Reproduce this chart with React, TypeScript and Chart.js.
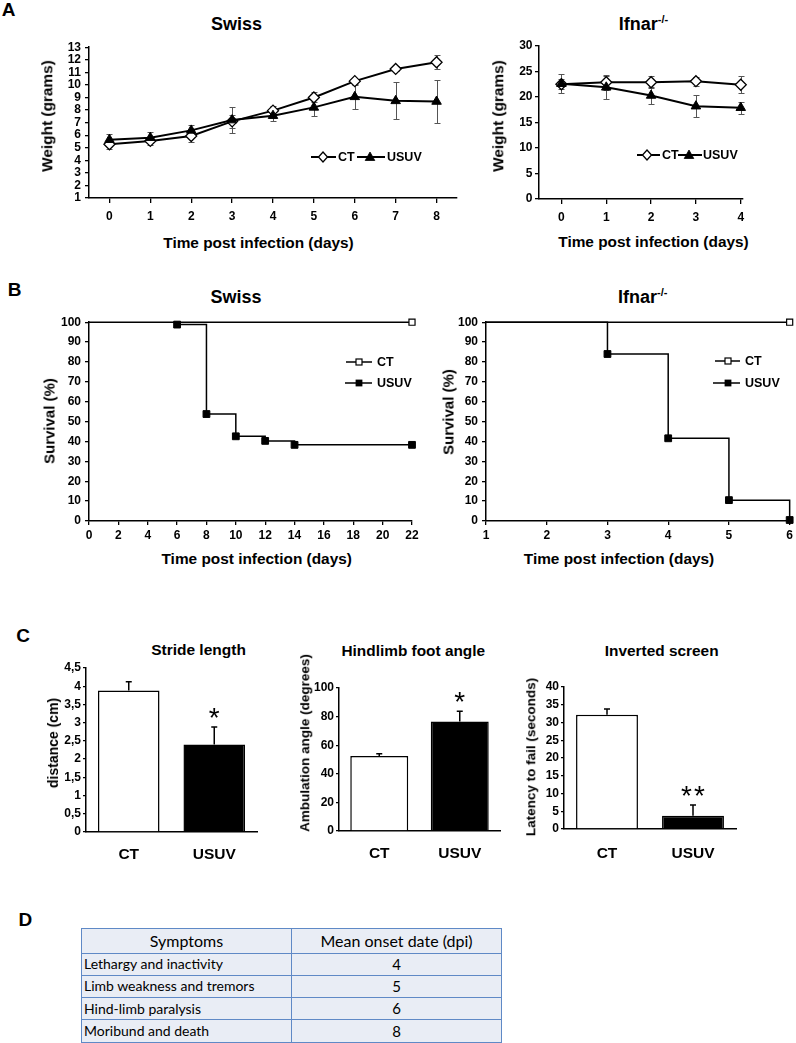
import React, { useEffect, useRef } from 'react';
import { Chart, registerables } from 'chart.js';

Chart.register(...registerables);

const FONT = 'Arial, "Liberation Sans", Helvetica, sans-serif';

// ---------- Panel A: body weight ----------
const swissWeightDays = [0, 1, 2, 3, 4, 5, 6, 7, 8];
const swissWeightCT = [5.28, 5.54, 5.93, 7.1, 7.95, 9.0, 10.3, 11.27, 11.8];
const swissWeightCTErr = [0.4, 0.3, 0.5, 0.5, 0.34, 0.4, 0.2, 0.2, 0.55];
const swissWeightUSUV = [5.64, 5.8, 6.38, 7.2, 7.55, 8.21, 9.05, 8.73, 8.68];
const swissWeightUSUVErr = [0.42, 0.45, 0.42, 1.05, 0.4, 0.7, 0.95, 1.47, 1.7];
const swissWeightYTicks = [1, 2, 3, 4, 5, 6, 7, 8, 9, 10, 11, 12, 13];

const ifnarWeightDays = [0, 1, 2, 3, 4];
const ifnarWeightCT = [22.5, 22.9, 22.9, 23.1, 22.4];
const ifnarWeightCTErr = [1.0, 1.5, 1.2, 0.9, 1.7];
const ifnarWeightUSUV = [22.6, 21.9, 20.3, 18.2, 17.9];
const ifnarWeightUSUVErr = [1.9, 2.3, 1.7, 2.2, 1.2];
const ifnarWeightYTicks = [0, 5, 10, 15, 20, 25, 30];

// ---------- Panel B: survival ----------
const swissSurvDaysCT = [0, 22];
const swissSurvCT = [100, 100];
const swissSurvDaysUSUV = [6, 8, 10, 12, 14, 22];
const swissSurvUSUV = [98.8, 53.8, 42.6, 40.3, 38.3, 38.3];
const swissSurvXTicks = [0, 2, 4, 6, 8, 10, 12, 14, 16, 18, 20, 22];

const ifnarSurvDaysCT = [1, 6];
const ifnarSurvCT = [100, 100];
const ifnarSurvDaysUSUV = [1, 3, 4, 5, 6];
const ifnarSurvUSUV = [100, 84, 41.6, 10.5, 0.5];
const ifnarSurvXTicks = [1, 2, 3, 4, 5, 6];

const survYTicks = [0, 10, 20, 30, 40, 50, 60, 70, 80, 90, 100];

// ---------- Panel C: behaviour ----------
const groups = ['CT', 'USUV'];
const strideMean = [3.88, 2.4];
const strideErr = [0.24, 0.48];
const strideSig = ['', '*'];
const strideYTicks = [0, 0.5, 1, 1.5, 2, 2.5, 3, 3.5, 4, 4.5];
const strideYLabels = ['0', '0,5', '1', '1,5', '2', '2,5', '3', '3,5', '4', '4,5'];

const footMean = [52.5, 76.5];
const footErr = [1.5, 7.3];
const footSig = ['', '*'];
const footYTicks = [0, 20, 40, 60, 80, 100];

const screenMean = [32.2, 3.75];
const screenErr = [1.6, 3.0];
const screenSig = ['', '**'];
const screenYTicks = [0, 5, 10, 15, 20, 25, 30, 35, 40];

// ---------- Panel D: table ----------
const symptoms = ['Lethargy and inactivity', 'Limb weakness and tremors', 'Hind-limb paralysis', 'Moribund and death'];
const onsetDpi = [4, 5, 6, 8];

// ---------- helpers ----------
const tickFont = { family: FONT, size: 12, weight: 'bold' as const };

function numAxis(o: any) {
  return {
    type: 'linear',
    position: o.vertical ? 'left' : 'bottom',
    min: o.min,
    max: o.max,
    afterBuildTicks: (s: any) => {
      s.ticks = o.values.map((v: number) => ({ value: v }));
    },
    afterFit: (s: any) => {
      if (o.vertical) s.width = o.size;
      else s.height = o.size;
    },
    ticks: {
      autoSkip: false,
      maxRotation: 0,
      minRotation: 0,
      padding: o.pad,
      color: '#000',
      font: tickFont,
      callback: (_v: any, i: number) => (o.labels ? o.labels[i] : String(o.values[i])),
    },
    grid: {
      display: true,
      drawOnChartArea: false,
      drawTicks: true,
      tickLength: o.tickLen,
      tickColor: '#000',
      tickWidth: 1.3,
      color: '#000',
      lineWidth: 1.3,
    },
    border: { display: true, color: '#000', width: 1.5 },
  };
}

const pts = (xs: number[], ys: number[]) => xs.map((x, i) => ({ x, y: ys[i] }));

function lineErrPlugin(sets: { xs: number[]; ys: number[]; err: number[] }[]) {
  return {
    id: 'lineErr',
    beforeDatasetsDraw(chart: any) {
      const { ctx } = chart;
      const x = chart.scales.x;
      const y = chart.scales.y;
      ctx.save();
      ctx.strokeStyle = '#555';
      ctx.lineWidth = 1;
      sets.forEach((s) => {
        s.xs.forEach((d, i) => {
          const px = Math.round(x.getPixelForValue(d)) + 0.5;
          const top = Math.round(y.getPixelForValue(s.ys[i] + s.err[i])) + 0.5;
          const bot = Math.round(y.getPixelForValue(s.ys[i] - s.err[i])) + 0.5;
          ctx.beginPath();
          ctx.moveTo(px, top);
          ctx.lineTo(px, bot);
          ctx.moveTo(px - 3, top);
          ctx.lineTo(px + 3, top);
          ctx.moveTo(px - 3, bot);
          ctx.lineTo(px + 3, bot);
          ctx.stroke();
        });
      });
      ctx.restore();
    },
  };
}

function barErrPlugin(means: number[], errs: number[], sig: string[]) {
  return {
    id: 'barErr',
    afterDatasetsDraw(chart: any) {
      const { ctx } = chart;
      const y = chart.scales.y;
      const meta = chart.getDatasetMeta(0);
      ctx.save();
      ctx.strokeStyle = '#000';
      ctx.fillStyle = '#000';
      ctx.lineWidth = 1.5;
      meta.data.forEach((bar: any, i: number) => {
        const px = bar.x;
        const base = y.getPixelForValue(means[i]);
        const top = y.getPixelForValue(means[i] + errs[i]);
        ctx.beginPath();
        ctx.moveTo(px, base);
        ctx.lineTo(px, top);
        ctx.moveTo(px - 3, top);
        ctx.lineTo(px + 3, top);
        ctx.stroke();
        const s = sig[i];
        if (s) {
          ctx.font = `normal 28px ${FONT}`;
          ctx.textAlign = 'center';
          ctx.textBaseline = 'alphabetic';
          const baseY = top;
          const n = s.length;
          for (let k = 0; k < n; k++) {
            const off = (k - (n - 1) / 2) * 13;
            ctx.fillText('*', px + off, baseY);
          }
        }
      });
      ctx.restore();
    },
  };
}

const baseOptions = (padTop: number, padRight: number) => ({
  responsive: false,
  animation: false,
  devicePixelRatio: 1,
  events: [],
  layout: { padding: { top: padTop, right: padRight, left: 0, bottom: 0 } },
  plugins: { legend: { display: false }, tooltip: { enabled: false }, title: { display: false } },
});

function weightConfig(p: any) {
  return {
    type: 'line',
    data: {
      datasets: [
        {
          label: 'CT',
          data: pts(p.days, p.ct),
          borderColor: '#000',
          borderWidth: 2,
          pointStyle: 'rectRot',
          pointRadius: 5.5,
          pointBackgroundColor: '#fff',
          pointBorderColor: '#000',
          pointBorderWidth: 1.3,
          tension: 0,
          clip: false,
          order: 1,
        },
        {
          label: 'USUV',
          data: pts(p.days, p.usuv),
          borderColor: '#000',
          borderWidth: 2,
          pointStyle: 'triangle',
          pointRadius: 5.5,
          pointBackgroundColor: '#000',
          pointBorderColor: '#000',
          pointBorderWidth: 1,
          tension: 0,
          clip: false,
          order: 0,
        },
      ],
    },
    options: {
      ...baseOptions(10, p.padRight),
      scales: {
        x: numAxis({ vertical: false, min: p.xMin, max: p.xMax, values: p.days, size: 30, tickLen: 5, pad: p.xPad }),
        y: numAxis({ vertical: true, min: p.yMin, max: p.yMax, values: p.yTicks, size: 49, tickLen: 4, pad: p.yPad }),
      },
    },
    plugins: [
      lineErrPlugin([
        { xs: p.days, ys: p.ct, err: p.ctErr },
        { xs: p.days, ys: p.usuv, err: p.usuvErr },
      ]),
    ],
  };
}

function survConfig(p: any) {
  return {
    type: 'line',
    data: {
      datasets: [
        {
          label: 'CT',
          data: pts(p.ctDays, p.ct),
          stepped: 'before',
          borderColor: '#000',
          borderWidth: 1.5,
          pointStyle: 'rect',
          pointRadius: p.ctDays.map((_: number, i: number) => (i === p.ctDays.length - 1 ? 4.3 : 0)),
          pointBackgroundColor: '#fff',
          pointBorderColor: '#000',
          pointBorderWidth: 1.2,
          clip: false,
          order: 0,
        },
        {
          label: 'USUV',
          data: pts(p.usuvDays, p.usuv),
          stepped: 'before',
          borderColor: '#000',
          borderWidth: 1.5,
          pointStyle: 'rect',
          pointRadius: p.usuv.map((v: number) => (v >= 100 ? 0 : 4.8)),
          pointBackgroundColor: '#000',
          pointBorderColor: '#000',
          pointBorderWidth: 1,
          clip: false,
          order: 1,
        },
      ],
    },
    options: {
      ...baseOptions(10, p.padRight),
      scales: {
        x: numAxis({ vertical: false, min: p.xMin, max: p.xMax, values: p.xTicks, size: 25, tickLen: 4, pad: 3 }),
        y: numAxis({ vertical: true, min: 0, max: 100, values: survYTicks, size: 49, tickLen: 4, pad: 4 }),
      },
    },
  };
}

function barConfig(p: any) {
  return {
    type: 'bar',
    data: {
      labels: groups,
      datasets: [
        {
          data: p.mean,
          backgroundColor: ['#fff', '#000'],
          borderColor: '#000',
          borderWidth: 1.5,
          barPercentage: 0.72,
          categoryPercentage: 1,
        },
      ],
    },
    options: {
      ...baseOptions(10, 10),
      scales: {
        x: {
          type: 'category',
          offset: true,
          afterFit: (s: any) => {
            s.height = 40;
          },
          grid: { display: false, drawTicks: false },
          border: { display: true, color: '#000', width: 1.5 },
          ticks: { color: '#000', padding: p.xPad, font: { family: FONT, size: 15.5, weight: 'bold' } },
        },
        y: numAxis({ vertical: true, min: p.yMin, max: p.yMax, values: p.yTicks, labels: p.yLabels, size: 49, tickLen: 3, pad: 2 }),
      },
    },
    plugins: [barErrPlugin(p.mean, p.err, p.sig)],
  };
}

function ChartBox({ left, top, width, height, build }: any) {
  const ref = useRef<HTMLCanvasElement | null>(null);
  useEffect(() => {
    if (!ref.current) return;
    const chart = new Chart(ref.current, build());
    return () => chart.destroy();
  }, []);
  return (
    <canvas
      ref={ref}
      width={width}
      height={height}
      style={{ position: 'absolute', left, top, width, height, display: 'block' }}
    />
  );
}

function Txt({ x, y, size, rot, children, weight = 'bold' }: any) {
  return (
    <div
      style={{
        position: 'absolute',
        left: x,
        top: y,
        transform: `translate(-50%, -50%)${rot ? ' rotate(-90deg)' : ''}`,
        fontFamily: FONT,
        fontSize: size,
        fontWeight: weight,
        lineHeight: 1,
        whiteSpace: 'nowrap',
        color: '#000',
      }}
    >
      {children}
    </div>
  );
}

function Ifnar({ x, y }: any) {
  return (
    <Txt x={x} y={y} size={18}>
      Ifnar
      <span style={{ fontSize: 11, position: 'relative', top: -7 }}>-/-</span>
    </Txt>
  );
}

function Marker({ kind, m }: any) {
  if (kind === 'diamond')
    return <polygon points={`${m},2 ${m + 4.5},7 ${m},12 ${m - 4.5},7`} fill="#fff" stroke="#000" strokeWidth={1.3} />;
  if (kind === 'triangle')
    return <polygon points={`${m},2 ${m + 4.8},10.5 ${m - 4.8},10.5`} fill="#000" stroke="#000" strokeWidth={0.8} />;
  if (kind === 'openSquare')
    return <rect x={m - 3} y={4} width={6} height={6} fill="#fff" stroke="#000" strokeWidth={1.2} />;
  return <rect x={m - 3.4} y={3.6} width={6.8} height={6.8} fill="#000" />;
}

function LegendEntry({ x, y, lineW, markAt, kind, label, textX, lw }: any) {
  return (
    <>
      <svg style={{ position: 'absolute', left: x, top: y - 7 }} width={lineW} height={14}>
        <line x1={0} y1={7} x2={lineW} y2={7} stroke="#000" strokeWidth={lw} />
        <Marker kind={kind} m={markAt} />
      </svg>
      <div
        style={{
          position: 'absolute',
          left: textX,
          top: y,
          transform: 'translateY(-50%)',
          fontFamily: FONT,
          fontWeight: 'bold',
          fontSize: 12.5,
          lineHeight: 1,
          whiteSpace: 'nowrap',
        }}
      >
        {label}
      </div>
    </>
  );
}

const cellBase: any = {
  border: '1.5px solid #5f89c6',
  padding: '0 2px',
  width: 205,
  lineHeight: 1,
  whiteSpace: 'nowrap',
  fontFamily: 'Lato, "Open Sans", sans-serif',
  color: '#000',
};

export default function App() {
  return (
    <div style={{ position: 'absolute', left: 0, top: 0, width: 796, height: 1043, background: '#fff', overflow: 'hidden' }}>
      {/* Panel letters */}
      <Txt x={8.5} y={8.5} size={19}>A</Txt>
      <Txt x={14.7} y={288.5} size={19}>B</Txt>
      <Txt x={23} y={634.7} size={19}>C</Txt>
      <Txt x={25.3} y={919} size={19}>D</Txt>

      {/* ---------- A: Swiss weight ---------- */}
      <Txt x={236.5} y={24.2} size={18}>Swiss</Txt>
      <ChartBox
        left={40}
        top={36}
        width={427}
        height={192}
        build={() =>
          weightConfig({
            days: swissWeightDays,
            ct: swissWeightCT,
            ctErr: swissWeightCTErr,
            usuv: swissWeightUSUV,
            usuvErr: swissWeightUSUVErr,
            xMin: -0.5,
            xMax: 8.5,
            yMin: 1,
            yMax: 13,
            yTicks: swissWeightYTicks,
            padRight: 10,
            xPad: 6,
            yPad: 4,
          })
        }
      />
      <Txt x={46.7} y={115.5} size={15.4} rot>Weight (grams)</Txt>
      <Txt x={258.5} y={243.3} size={15.4}>Time post infection (days)</Txt>
      <LegendEntry x={311} y={157} lineW={25} markAt={12} kind="diamond" label="CT" textX={338} lw={2} />
      <LegendEntry x={357} y={157} lineW={28} markAt={13} kind="triangle" label="USUV" textX={387} lw={2} />

      {/* ---------- A: Ifnar weight ---------- */}
      <Ifnar x={643.5} y={23.5} />
      <ChartBox
        left={490}
        top={36}
        width={263}
        height={193}
        build={() =>
          weightConfig({
            days: ifnarWeightDays,
            ct: ifnarWeightCT,
            ctErr: ifnarWeightCTErr,
            usuv: ifnarWeightUSUV,
            usuvErr: ifnarWeightUSUVErr,
            xMin: -0.5,
            xMax: 4.05,
            yMin: 0,
            yMax: 30,
            yTicks: ifnarWeightYTicks,
            padRight: 10,
            xPad: 6,
            yPad: 2.5,
          })
        }
      />
      <Txt x={498.3} y={116} size={15.4} rot>Weight (grams)</Txt>
      <Txt x={653.5} y={241.7} size={15.4}>Time post infection (days)</Txt>
      <LegendEntry x={637} y={155} lineW={23} markAt={10} kind="diamond" label="CT" textX={662} lw={2} />
      <LegendEntry x={678} y={155} lineW={24} markAt={11} kind="triangle" label="USUV" textX={703} lw={2} />

      {/* ---------- B: Swiss survival ---------- */}
      <Txt x={236} y={297} size={18}>Swiss</Txt>
      <ChartBox
        left={40}
        top={311}
        width={382}
        height={235}
        build={() =>
          survConfig({
            ctDays: swissSurvDaysCT,
            ct: swissSurvCT,
            usuvDays: swissSurvDaysUSUV,
            usuv: swissSurvUSUV,
            xMin: 0,
            xMax: 22,
            xTicks: swissSurvXTicks,
            padRight: 10,
          })
        }
      />
      <Txt x={48.8} y={420.5} size={15} rot>Survival (%)</Txt>
      <Txt x={256.7} y={559.3} size={15.4}>Time post infection (days)</Txt>
      <LegendEntry x={346} y={362} lineW={26} markAt={13} kind="openSquare" label="CT" textX={377} lw={1.5} />
      <LegendEntry x={345} y={383} lineW={27} markAt={14} kind="filledSquare" label="USUV" textX={377} lw={1.5} />

      {/* ---------- B: Ifnar survival ---------- */}
      <Ifnar x={642.7} y={296.7} />
      <ChartBox
        left={437}
        top={311}
        width={359}
        height={235}
        build={() =>
          survConfig({
            ctDays: ifnarSurvDaysCT,
            ct: ifnarSurvCT,
            usuvDays: ifnarSurvDaysUSUV,
            usuv: ifnarSurvUSUV,
            xMin: 1,
            xMax: 6,
            xTicks: ifnarSurvXTicks,
            padRight: 5,
          })
        }
      />
      <Txt x={447.8} y={411.7} size={15} rot>Survival (%)</Txt>
      <Txt x={619} y={559.3} size={15.4}>Time post infection (days)</Txt>
      <LegendEntry x={715} y={361} lineW={25} markAt={13} kind="openSquare" label="CT" textX={745} lw={1.5} />
      <LegendEntry x={713} y={383} lineW={27} markAt={15} kind="filledSquare" label="USUV" textX={745} lw={1.5} />

      {/* ---------- C: bars ---------- */}
      <Txt x={198.5} y={650} size={15.5}>Stride length</Txt>
      <ChartBox
        left={37}
        top={658}
        width={230}
        height={214}
        build={() =>
          barConfig({
            mean: strideMean,
            err: strideErr,
            sig: strideSig,
            yMin: 0,
            yMax: 4.5,
            yTicks: strideYTicks,
            yLabels: strideYLabels,
            xPad: 13,
          })
        }
      />
      <Txt x={53} y={742.8} size={14} rot>distance (cm)</Txt>

      <Txt x={413.3} y={650.8} size={15.4}>Hindlimb foot angle</Txt>
      <ChartBox
        left={290}
        top={678}
        width={220}
        height={193}
        build={() =>
          barConfig({
            mean: footMean,
            err: footErr,
            sig: footSig,
            yMin: 0,
            yMax: 100,
            yTicks: footYTicks,
            xPad: 13,
          })
        }
      />
      <Txt x={305} y={743.3} size={13.5} rot>Ambulation angle (degrees)</Txt>

      <Txt x={661.7} y={650.5} size={15.4}>Inverted screen</Txt>
      <ChartBox
        left={515}
        top={677}
        width={231}
        height={192}
        build={() =>
          barConfig({
            mean: screenMean,
            err: screenErr,
            sig: screenSig,
            yMin: 0,
            yMax: 40,
            yTicks: screenYTicks,
            xPad: 15,
          })
        }
      />
      <Txt x={530.5} y={757} size={13.5} rot>Latency to fail (seconds)</Txt>

      {/* ---------- D: table ---------- */}
      <table
        style={{
          position: 'absolute',
          left: 81,
          top: 928,
          width: 410,
          borderCollapse: 'collapse',
          background: '#e9edf5',
          tableLayout: 'fixed',
        }}
      >
        <tbody>
          <tr style={{ height: 24.5 }}>
            <td style={{ ...cellBase, textAlign: 'center', fontSize: 16 }}>Symptoms</td>
            <td style={{ ...cellBase, textAlign: 'center', fontSize: 16 }}>Mean onset date (dpi)</td>
          </tr>
          {symptoms.map((s, i) => (
            <tr key={s} style={{ height: 22.3 }}>
              <td style={{ ...cellBase, textAlign: 'left', fontSize: 14 }}>{s}</td>
              <td style={{ ...cellBase, textAlign: 'center', fontSize: 15 }}>{onsetDpi[i]}</td>
            </tr>
          ))}
        </tbody>
      </table>
    </div>
  );
}
